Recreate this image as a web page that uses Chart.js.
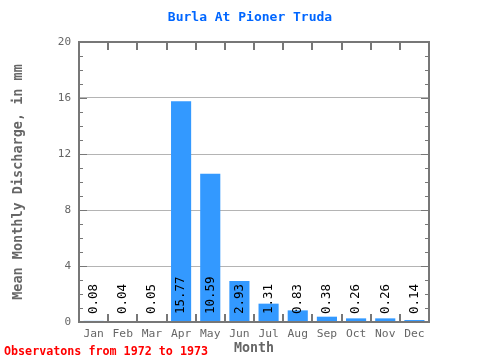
<!DOCTYPE html>
<html>
<head>
<meta charset="utf-8">
<script src="https://cdn.jsdelivr.net/npm/chart.js@4/dist/chart.umd.min.js"></script>
<style>
  html, body { margin: 0; padding: 0; background: #fff; }
  #wrap { position: relative; width: 480px; height: 360px; }
</style>
</head>
<body>
<div id="wrap"><canvas id="chart" width="480" height="360"></canvas></div>
<script>
// data
const months = ["Jan", "Feb", "Mar", "Apr", "May", "Jun", "Jul", "Aug", "Sep", "Oct", "Nov", "Dec"];
const discharge = [0.08, 0.04, 0.05, 15.77, 10.59, 2.93, 1.31, 0.83, 0.38, 0.26, 0.26, 0.14];
const valueLabels = ["0.08", "0.04", "0.05", "15.77", "10.59", "2.93", "1.31", "0.83", "0.38", "0.26", "0.26", "0.14"];
const yTicks = [0, 4, 8, 12, 16, 20];

const titleText = "Burla At Pioner Truda";
const footText = "Observatons from 1972 to 1973";
const MONO = "'DejaVu Sans Mono', 'Liberation Mono', monospace";
const AXIS = "#777777";

// frame, minor ticks, value labels, title + footer
const decor = {
  id: "decor",
  afterDatasetsDraw(chart) {
    const { ctx, chartArea: a, scales } = chart;
    const y = scales.y;
    ctx.save();

    // value labels, rotated
    ctx.font = "12.5px " + MONO;
    ctx.fillStyle = "#000";
    ctx.textAlign = "left";
    ctx.textBaseline = "middle";
    const meta = chart.getDatasetMeta(0);
    meta.data.forEach((bar, i) => {
      ctx.save();
      ctx.translate(bar.x, a.bottom - 8);
      ctx.rotate(-Math.PI / 2);
      ctx.fillText(valueLabels[i], 0, 0);
      ctx.restore();
    });

    // frame
    ctx.strokeStyle = AXIS;
    ctx.lineWidth = 2;
    ctx.strokeRect(a.left, a.top, a.right - a.left, a.bottom - a.top);

    // minor ticks on left/right every 1 unit
    ctx.lineWidth = 1;
    for (let v = 1; v < 20; v++) {
      const py = Math.round(y.getPixelForValue(v)) + 0.5;
      const len = v % 4 === 0 ? 8 : 4;
      ctx.beginPath();
      ctx.moveTo(a.left, py); ctx.lineTo(a.left + len, py);
      ctx.moveTo(a.right, py); ctx.lineTo(a.right - len, py);
      ctx.stroke();
    }
    // category boundary ticks top / bottom
    ctx.lineWidth = 2;
    const step = (a.right - a.left) / months.length;
    for (let i = 1; i < months.length; i++) {
      const px = Math.round(a.left + step * i);
      ctx.beginPath();
      ctx.moveTo(px, a.top); ctx.lineTo(px, a.top + 8);
      ctx.moveTo(px, a.bottom); ctx.lineTo(px, a.bottom - 8);
      ctx.stroke();
    }

    // title
    ctx.font = "bold 13px " + MONO;
    ctx.fillStyle = "#0066ff";
    ctx.textAlign = "center";
    ctx.textBaseline = "middle";
    ctx.fillText(titleText, 250, 18);

    // footer
    ctx.font = "bold 11.7px " + MONO;
    ctx.fillStyle = "#ff0000";
    ctx.textAlign = "left";
    ctx.fillText(footText, 4, 352);
    ctx.restore();
  }
};

new Chart(document.getElementById("chart"), {
  type: "bar",
  data: {
    labels: months,
    datasets: [{
      data: discharge,
      backgroundColor: "#3399ff",
      borderWidth: 0,
      barPercentage: 0.69,
      categoryPercentage: 1.0,
    }],
  },
  options: {
    responsive: false,
    animation: false,
    layout: { padding: { top: 42, right: 51, left: 0, bottom: 0 } },
    plugins: { legend: { display: false }, tooltip: { enabled: false } },
    scales: {
      x: {
        grid: { display: false, drawTicks: false },
        border: { display: false },
        ticks: { color: "#666", font: { family: MONO, size: 11.3 }, padding: 5, maxRotation: 0 },
        title: { display: true, text: "Month", color: "#666", font: { family: MONO, size: 13.3, weight: "bold" }, padding: { top: 0, bottom: 3 } },
        afterFit(s) { s.height = 38; },
      },
      y: {
        min: 0, max: 20,
        afterBuildTicks(s) { s.ticks = yTicks.map((v) => ({ value: v })); },
        grid: {
          drawTicks: false,
          color: (c) => (c.tick.value === 0 || c.tick.value === 20 ? "rgba(0,0,0,0)" : "#b4b4b4"),
        },
        border: { display: false },
        ticks: { color: "#666", font: { family: MONO, size: 11 }, padding: 8 },
        title: { display: true, text: "Mean Monthly Discharge, in mm", color: "#666", font: { family: MONO, size: 13.5, weight: "bold" }, padding: { top: 10, bottom: 6 } },
        afterFit(s) { s.width = 79; },
      },
    },
  },
  plugins: [decor],
});
</script>
</body>
</html>
